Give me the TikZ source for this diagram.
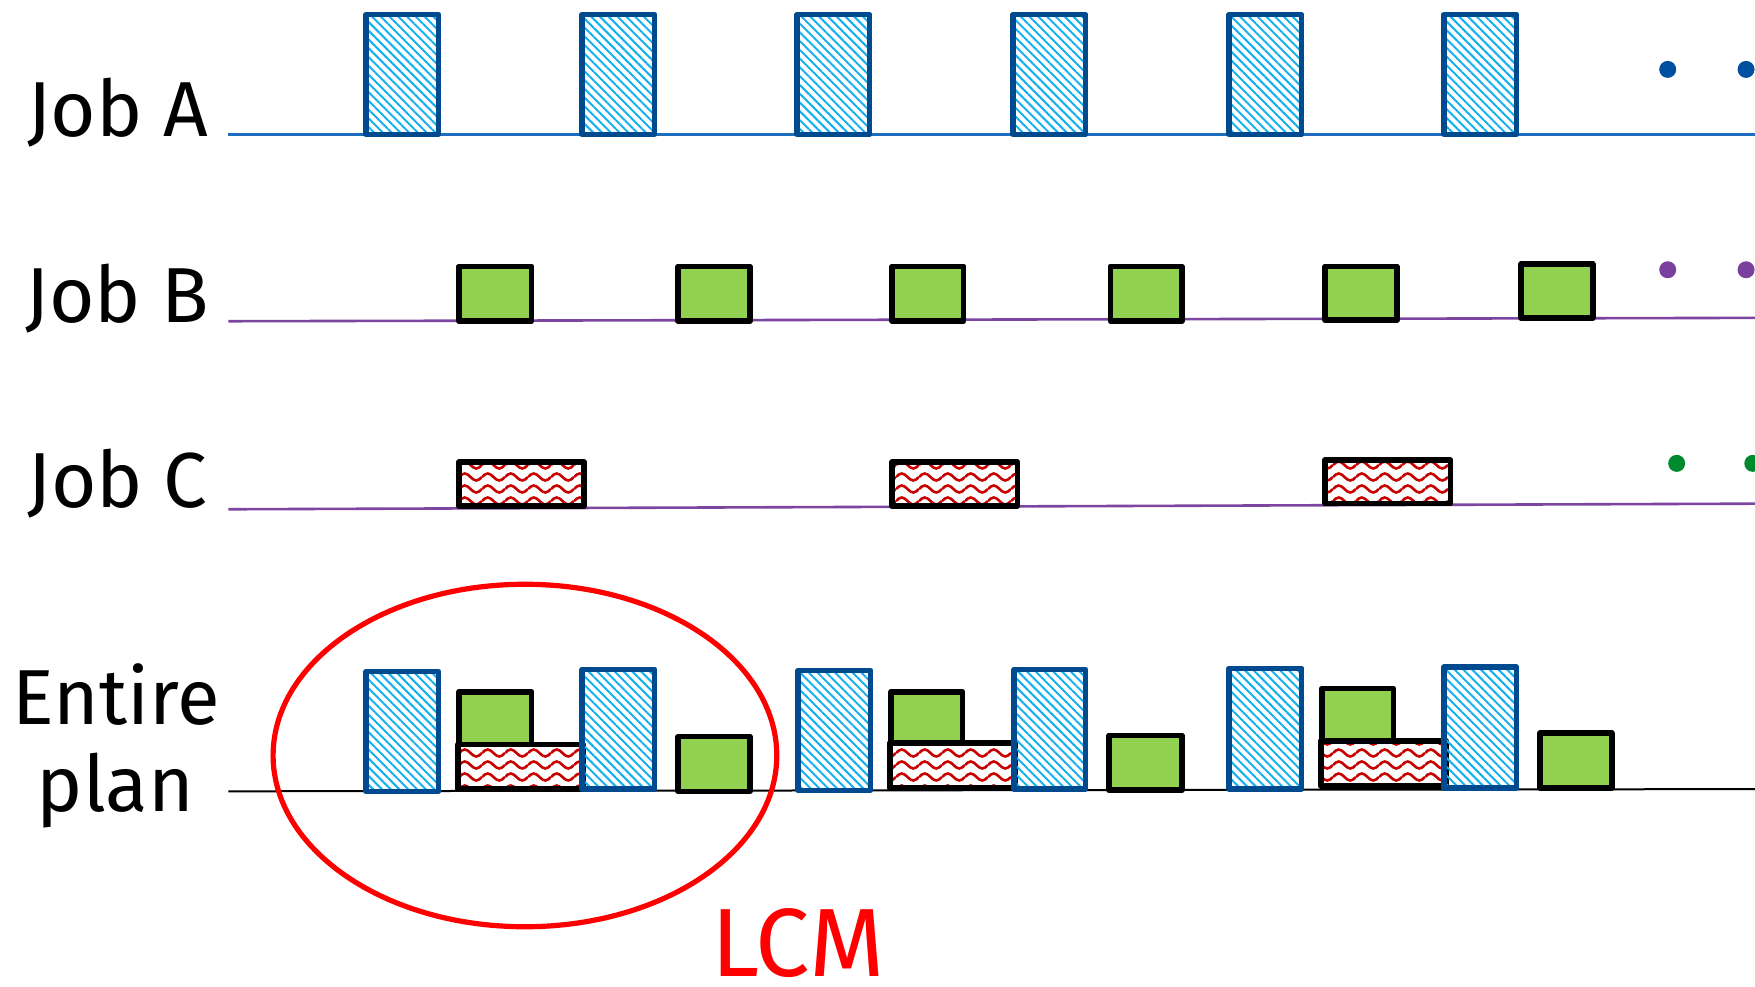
\documentclass[tikz,border=0pt]{standalone}
\usepackage{fontspec}
\setmainfont{Fira Sans}
\usetikzlibrary{patterns.meta,shapes.geometric}

\definecolor{aedge}{RGB}{0,74,143}
\definecolor{ahatch}{RGB}{20,176,240}
\definecolor{aline}{RGB}{30,110,192}
\definecolor{pline}{RGB}{124,70,160}
\definecolor{bgreen}{RGB}{146,208,80}
\definecolor{cred}{RGB}{200,0,0}
\definecolor{adot}{RGB}{0,80,160}
\definecolor{bdot}{RGB}{122,64,158}
\definecolor{cdot}{RGB}{0,138,48}

% horizontal red wave rows used for job C
\tikzdeclarepattern{
  name=redwaves,
  type=uncolored,
  bottom left={(0pt,0pt)},
  top right={(23pt,12pt)},
  tile size={(23pt,12pt)},
  code={
    \draw[line width=2.6pt] (0pt,6pt) sin (5.75pt,9.5pt) cos (11.5pt,6pt)
      sin (17.25pt,2.5pt) cos (23pt,6pt);
  }
}

\tikzset{
  taskA/.style={draw=aedge, line width=5.4pt, line join=round,
    pattern={Lines[angle=-45,distance=6.2pt,line width=2pt]}, pattern color=ahatch},
  taskB/.style={draw=black, fill=bgreen, line width=5.6pt, line join=round},
  taskC/.style={draw=black, line width=5.6pt, line join=round,
    pattern=redwaves, pattern color=cred},
  label/.style={font=\fontsize{78}{90}\selectfont, anchor=base, inner sep=0pt},
  more/.style={radius=8.5pt}
}

\begin{document}
\begin{tikzpicture}[x=1.1193pt, y=-1.1193pt]
\useasboundingbox[fill=white] (0,0) rectangle (1568,881);

% row labels
\node[label] (labA) at (105,122) {Job A};
\node[label] (labB) at (105,288) {Job B};
\node[label] (labC) at (105,453) {Job C};
\node[label] (labE) at (104,647) {Entire};
\node[label] (labP) at (103,725) {plan};

% time axes
\draw[aline, line width=2.6pt] (204,120) -- (1568,120);
\draw[pline, line width=2.6pt] (204,287) -- (1568,284);
\draw[pline, line width=2.6pt] (204,455) -- (1568,450);
\draw[black, line width=2pt] (204,707) -- (1568,705);

% job A
\foreach \x in {327,520,712,905,1098,1290}
  \draw[taskA] (\x,13) rectangle ++(65,107);
\fill[adot] (1490,62) circle[more] (1560,62) circle[more];

% job B
\draw[taskB] (410,238) rectangle (475,287);
\draw[taskB] (606,238) rectangle (670,287);
\draw[taskB] (797,238) rectangle (861,287);
\draw[taskB] (992,238) rectangle (1056,287);
\draw[taskB] (1184,238) rectangle (1248,286);
\draw[taskB] (1359,236) rectangle (1423,284);
\fill[bdot] (1490,241) circle[more] (1560,241) circle[more];

% job C
\draw[taskC] (410,413) rectangle (522,452);
\draw[taskC] (797,413) rectangle (909,452);
\draw[taskC] (1184,411) rectangle (1296,450);
\fill[cdot] (1498,414) circle[more] (1566,414) circle[more];

% combined schedule
\draw[taskA] (327,600) rectangle (392,707);
\draw[taskB] (410,618) rectangle (475,665);
\draw[taskC] (409,665) rectangle (521,705);
\draw[taskA] (520,598) rectangle (585,705);
\draw[taskB] (606,658) rectangle (670,707);

\draw[taskA] (713,599) rectangle (778,706);
\draw[taskB] (796,618) rectangle (860,664);
\draw[taskC] (795,664) rectangle (907,704);
\draw[taskA] (906,598) rectangle (970,705);
\draw[taskB] (991,657) rectangle (1056,706);

\draw[taskA] (1098,597) rectangle (1163,705);
\draw[taskB] (1181,615) rectangle (1245,662);
\draw[taskC] (1180,662) rectangle (1292,702);
\draw[taskA] (1290,596) rectangle (1355,704);
\draw[taskB] (1376,655) rectangle (1440,704);

% one hyperperiod
\node[draw=red, line width=5.2pt, ellipse, minimum width=503.7pt, minimum height=342.5pt,
  inner sep=0pt] (ring) at (469,675) {};
\node[label, text=red, font=\fontsize{97}{100}\selectfont] (lcm) at (713,872) {LCM};
\end{tikzpicture}
\end{document}
